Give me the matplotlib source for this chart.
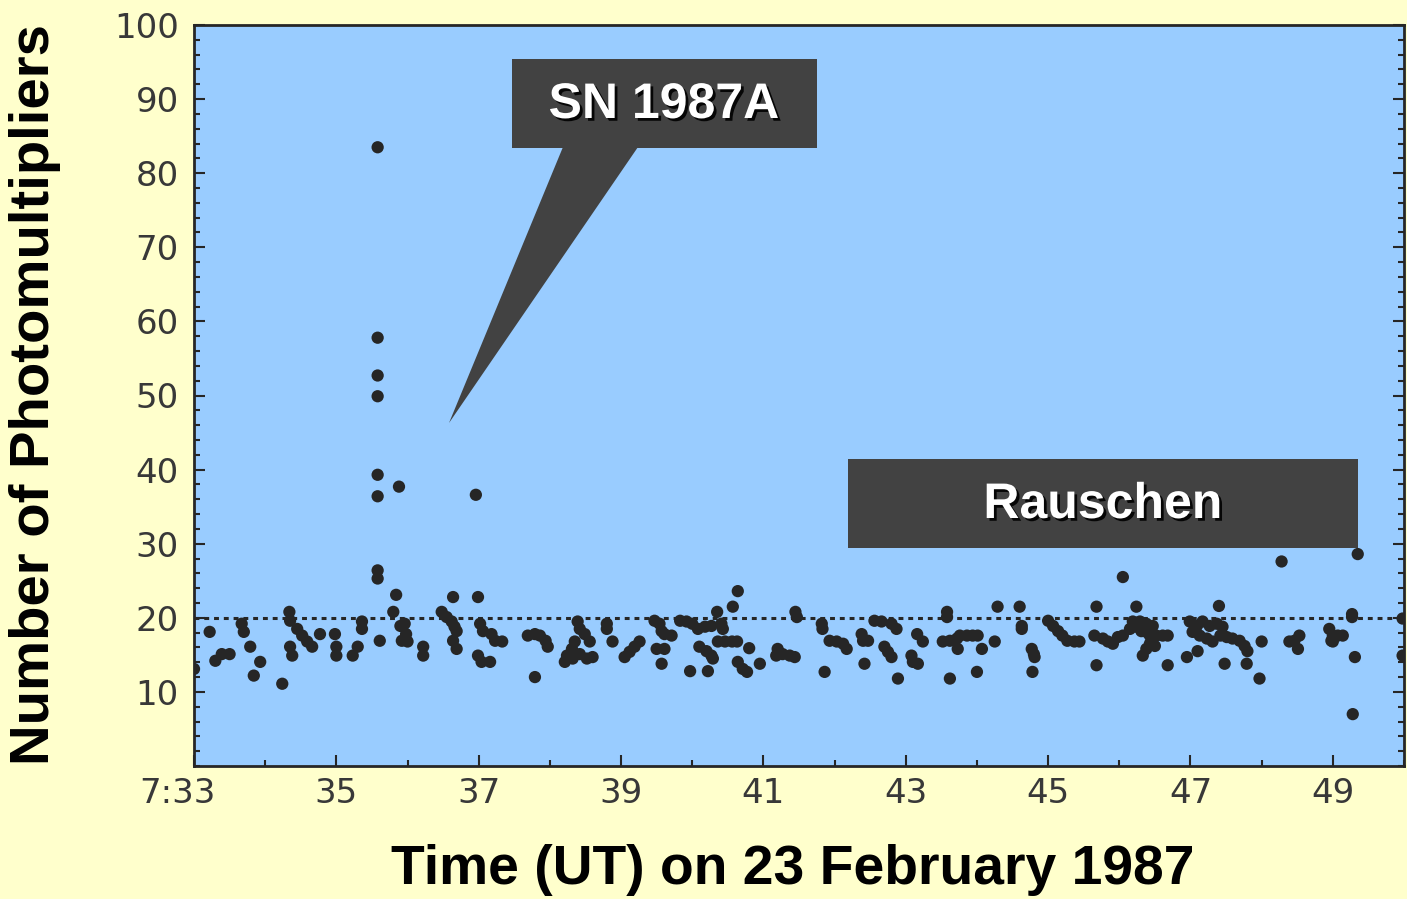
import matplotlib
matplotlib.use("Agg")
import matplotlib.pyplot as plt
import matplotlib.patches as mpatches
import matplotlib.patheffects as pe
from matplotlib.transforms import ScaledTranslation
from matplotlib.ticker import MultipleLocator

# ------------------------------------------
# data: minutes after 7:00 UT, number of photomultipliers hit
# ------------------------------------------
event_minute = [
    33.0, 33.22, 33.3, 33.39, 33.5, 33.67, 33.7, 33.79, 33.93, 33.84, 34.24,
    34.34, 34.35, 34.35, 34.38, 34.45, 34.52, 34.59, 34.66, 34.77, 34.98,
    35.0, 35.0, 35.23, 35.3, 35.36, 35.36, 35.58, 35.58, 35.61, 35.84, 35.8,
    35.9, 35.96, 35.98, 35.92, 36.0, 36.22, 36.22, 36.48, 36.55, 36.62,
    36.66, 36.69, 36.64, 36.99, 36.64, 36.69, 37.02, 37.06, 37.18, 37.23,
    37.33, 36.99, 37.04, 37.16, 37.69, 37.79, 37.86, 37.94, 37.97, 37.79,
    38.39, 38.42, 38.49, 38.35, 38.31, 38.24, 38.21, 38.32, 38.42, 38.52,
    38.56,
    # burst
    35.58, 35.58, 35.58, 35.58, 35.58, 35.58, 35.88, 36.96,
    38.6, 38.8, 38.8, 38.88, 39.05, 39.12, 39.19, 39.26, 39.47, 39.54,
    39.57, 39.61, 39.71, 39.5, 39.61, 39.57, 39.83, 39.92, 40.0, 40.08,
    40.18, 40.27, 40.35, 40.41, 40.43, 40.64, 40.57, 40.36, 40.46, 40.56,
    40.63, 40.1, 40.2, 40.27, 40.29, 39.97, 40.22, 40.64, 40.71, 40.77,
    40.8, 40.95, 41.2, 41.27, 41.37, 41.44, 41.18, 41.45, 41.47, 41.82,
    41.83, 41.86, 41.93, 42.03, 42.12, 42.17, 42.38, 42.4, 42.47, 42.42,
    42.56, 42.66, 42.8, 42.87, 42.7, 42.75, 42.8, 42.89, 43.08, 43.1,
    43.17, 43.16, 43.24, 43.58, 43.58, 43.52, 43.62, 43.72, 43.76, 43.86,
    43.94, 44.01, 43.73, 44.07, 43.62, 44.0, 44.25, 44.29,
    44.6, 44.63, 44.63, 44.77, 44.8, 44.81, 44.78, 45.0, 45.07, 45.14,
    45.2, 45.27, 45.37, 45.44, 45.68, 46.05, 46.24, 45.65, 45.77, 45.84,
    45.91, 45.98, 46.05, 46.15, 46.24, 46.31, 46.38, 46.43, 46.52, 46.61,
    46.68, 46.19, 46.29, 46.38, 46.47, 46.33, 46.38, 46.43, 46.5, 46.68,
    45.68, 46.95, 47.1, 46.99, 47.09, 47.17, 47.27, 47.37, 47.45, 47.03,
    47.13, 47.23, 47.31, 47.42, 47.51, 47.4, 47.48, 47.79, 47.59, 47.69,
    47.76, 47.8, 48.0, 47.97, 48.28, 48.39, 48.46, 48.53, 48.51, 48.95,
    49.0, 49.07, 49.14, 48.98, 49.0, 49.27, 49.27, 49.35, 49.31, 49.28,
    49.98, 49.98,
]
event_pmts = [
    13.1, 18.1, 14.2, 15.1, 15.1, 19.2, 18.1, 16.1, 14.05, 12.2, 11.1,
    20.8, 19.6, 16.1, 14.9, 18.5, 17.6, 16.8, 16.1, 17.8, 17.8,
    16.1, 14.9, 14.9, 16.1, 19.5, 18.5, 26.4, 25.3, 16.9, 23.1, 20.8,
    18.9, 19.2, 17.8, 16.9, 16.8, 16.1, 14.9, 20.8, 20.1, 19.5,
    18.8, 18.2, 22.8, 22.8, 16.9, 15.8, 19.2, 18.2, 17.8, 16.9,
    16.8, 14.9, 14.05, 14.05, 17.6, 17.8, 17.6, 16.9, 16.1, 12.0,
    19.5, 18.5, 17.8, 16.8, 15.8, 14.9, 14.05, 14.5, 15.1, 14.5,
    16.8,
    # burst
    83.5, 57.8, 52.7, 49.9, 39.3, 36.4, 37.7, 36.6,
    14.7, 19.2, 18.5, 16.8, 14.7, 15.4, 16.1, 16.8, 19.6, 19.2,
    18.2, 17.8, 17.6, 15.8, 15.8, 13.8, 19.6, 19.5, 19.2, 18.5,
    18.8, 18.9, 20.8, 19.2, 18.5, 23.6, 21.5, 16.8, 16.8, 16.8,
    16.8, 16.1, 15.5, 14.9, 14.5, 12.8, 12.8, 14.05, 13.1, 12.7,
    15.9, 13.8, 15.8, 15.1, 14.9, 14.7, 14.9, 20.8, 20.1, 19.2,
    18.5, 12.7, 16.9, 16.8, 16.5, 15.8, 17.8, 16.9, 16.9, 13.8,
    19.6, 19.5, 19.2, 18.5, 16.1, 15.4, 14.7, 11.8, 14.9, 14.05,
    13.8, 17.8, 16.8, 20.8, 20.1, 16.8, 16.9, 17.2, 17.6, 17.6,
    17.6, 17.6, 15.8, 15.8, 11.8, 12.7, 16.8, 21.5,
    21.5, 18.9, 18.5, 15.8, 15.1, 14.7, 12.7, 19.6, 18.9, 18.2,
    17.6, 16.9, 16.8, 16.8, 21.5, 25.5, 21.5, 17.6, 17.2, 16.8,
    16.5, 17.4, 17.6, 18.5, 18.8, 18.2, 18.1, 17.6, 17.6, 17.6,
    17.6, 19.5, 19.5, 19.2, 18.9, 14.9, 15.8, 16.5, 16.2, 13.6,
    13.6, 14.7, 15.5, 19.5, 18.9, 19.5, 18.9, 19.2, 18.8, 18.1,
    17.6, 17.2, 16.8, 17.6, 17.4, 21.6, 13.8, 13.8, 17.2, 16.9,
    16.2, 15.5, 16.8, 11.8, 27.6, 16.8, 16.9, 17.6, 15.8, 18.5,
    17.6, 17.6, 17.6, 16.9, 16.8, 20.5, 20.1, 28.6, 14.7, 7.0,
    19.9, 14.9,
]

threshold = 20
x_ticks = [33, 35, 37, 39, 41, 43, 45, 47, 49]
x_ticklabels = ["7:33", "35", "37", "39", "41", "43", "45", "47", "49"]
y_ticks = [10, 20, 30, 40, 50, 60, 70, 80, 90, 100]

BG_YELLOW = "#FFFFCC"
BG_BLUE = "#99CCFF"
BOX_GRAY = "#424242"
INK = "#262626"

# ------------------------------------------
# figure
# ------------------------------------------
fig = plt.figure(figsize=(14.07, 8.99), dpi=100, facecolor=BG_YELLOW)
ax = fig.add_axes([194 / 1407, 1 - 766 / 899, 1210 / 1407, 741 / 899])
ax.set_facecolor(BG_BLUE)

ax.scatter(event_minute, event_pmts, s=78, color=INK, edgecolors="none",
           zorder=3, clip_on=True)
ax.axhline(threshold, color=INK, lw=2.2, ls=(0, (1.6, 1.6)), zorder=2)

ax.set_xlim(33, 50)
ax.set_ylim(0, 100)
ax.set_xticks(x_ticks)
ax.set_xticklabels(x_ticklabels)
ax.set_yticks(y_ticks)
ax.xaxis.set_minor_locator(MultipleLocator(1))
ax.yaxis.set_minor_locator(MultipleLocator(2))

ax.tick_params(which="both", direction="in", color=INK, width=1.5,
               labelsize=24.5, labelcolor="#383838")
ax.tick_params(which="major", length=8)
ax.tick_params(which="minor", length=4)
ax.tick_params(axis="y", pad=11, right=True, which="both")
ax.tick_params(axis="x", pad=8)
for s in ax.spines.values():
    s.set_color(INK)
    s.set_linewidth(2)

# shift "7:33" so that the minutes sit under the tick
first = ax.get_xticklabels()[0]
first.set_transform(first.get_transform() +
                    ScaledTranslation(-0.17, 0, fig.dpi_scale_trans))

# axis titles
fig.text(793 / 1407, 1 - 870 / 899, "Time (UT) on 23 February 1987",
         family="Liberation Sans", weight="bold", fontsize=39.8,
         color="black", ha="center", va="center")
fig.text(35 / 1407, 1 - 395 / 899, "Number of Photomultipliers",
         family="Liberation Sans", weight="bold", fontsize=40.5,
         color="black", ha="center", va="center", rotation=90)

# ------------------------------------------
# callout boxes
# ------------------------------------------
shadow = [pe.SimplePatchShadow(offset=(2, -2), shadow_rgbFace="black",
                               alpha=0.9), pe.Normal()]

sn_box = mpatches.Rectangle((512 / 1407, 1 - 148 / 899), 305 / 1407,
                            89 / 899, transform=fig.transFigure,
                            facecolor=BOX_GRAY, edgecolor="none", zorder=5)
sn_tail = mpatches.Polygon([(563 / 1407, 1 - 147 / 899),
                            (638 / 1407, 1 - 147 / 899),
                            (449 / 1407, 1 - 423 / 899)],
                           closed=True, transform=fig.transFigure,
                           facecolor=BOX_GRAY, edgecolor="none", zorder=5)
noise_box = mpatches.Rectangle((848 / 1407, 1 - 548 / 899), 510 / 1407,
                               89 / 899, transform=fig.transFigure,
                               facecolor=BOX_GRAY, edgecolor="none", zorder=5)
for p in (sn_box, sn_tail, noise_box):
    fig.patches.append(p)

fig.text(664 / 1407, 1 - 105 / 899, "SN 1987A", family="Liberation Sans",
         weight="bold", fontsize=36, color="white", ha="center",
         va="center", path_effects=shadow, zorder=6)
fig.text(1103 / 1407, 1 - 505 / 899, "Rauschen", family="Liberation Sans",
         weight="bold", fontsize=36, color="white", ha="center",
         va="center", path_effects=shadow, zorder=6)

fig.savefig("out.png", dpi=100, facecolor=BG_YELLOW)
